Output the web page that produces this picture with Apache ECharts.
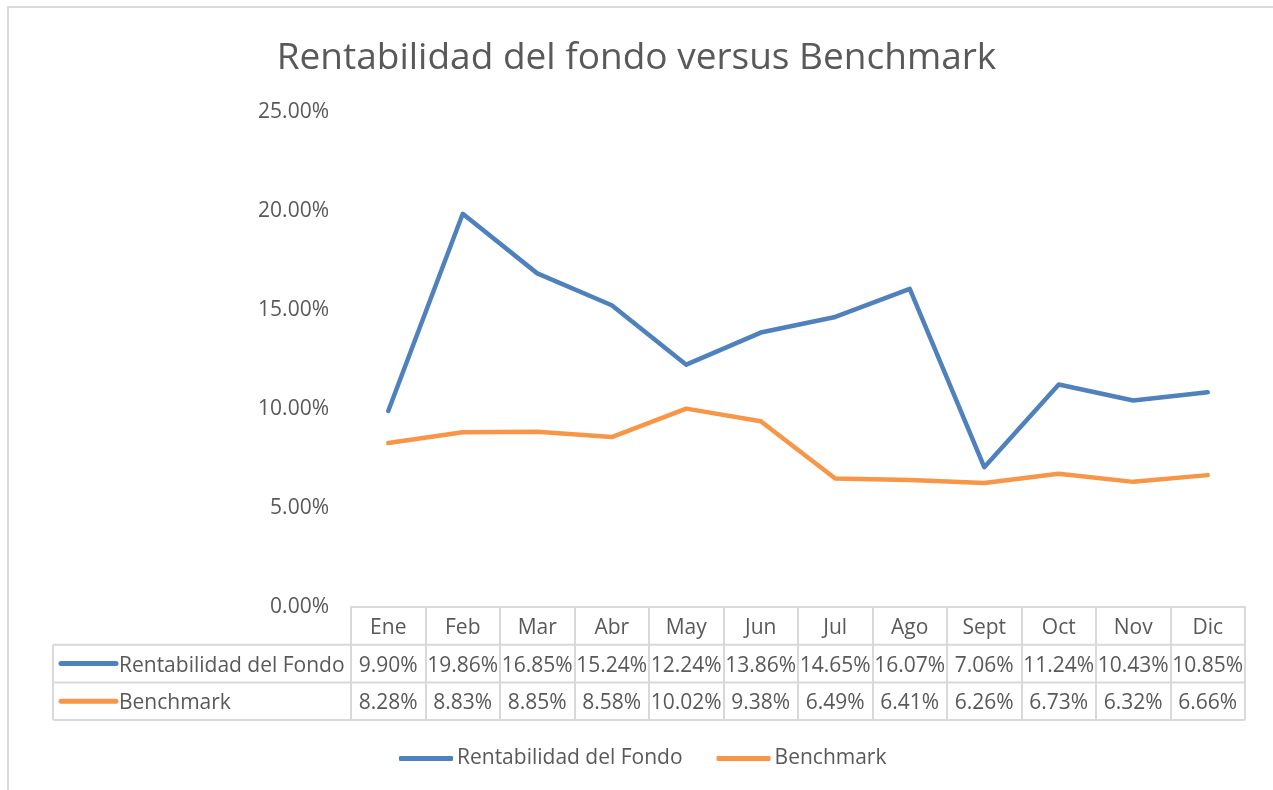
<!DOCTYPE html>
<html>
<head>
<meta charset="utf-8">
<script src="https://cdn.jsdelivr.net/npm/echarts@6/dist/echarts.min.js"></script>
<style>
html,body{margin:0;padding:0;background:#fff;}
#c{width:1273px;height:790px;}
</style>
</head>
<body>
<div id="c"></div>
<script>
const categories = ['Ene','Feb','Mar','Abr','May','Jun','Jul','Ago','Sept','Oct','Nov','Dic'];
const fondo = [9.90,19.86,16.85,15.24,12.24,13.86,14.65,16.07,7.06,11.24,10.43,10.85];
const benchmark = [8.28,8.83,8.85,8.58,10.02,9.38,6.49,6.41,6.26,6.73,6.32,6.66];
const seriesNames = ['Rentabilidad del Fondo','Benchmark'];
const yTicks = {min:0, max:25, interval:5};

const FONT = '"Open Sans", sans-serif';
const TXT = '#595959';
const GRID_LINE = '#d9d9d9';
const BLUE = '#4f81bd';
const ORANGE = '#f79646';
const ROW_H = 37.7;

const chart = echarts.init(document.getElementById('c'), null, {renderer:'canvas'});

const option = {
  animation:false,
  backgroundColor:'#fff',
  title:{
    text:'Rentabilidad del fondo versus Benchmark',
    left:'center', top:35,
    textStyle:{fontFamily:FONT, fontSize:37, fontWeight:'normal', color:TXT}
  },
  legend:{
    data:seriesNames,
    left:394, top:743,
    itemWidth:54, itemHeight:5, itemGap:34,
    icon:'roundRect',
    textStyle:{fontFamily:FONT, fontSize:21, color:TXT, padding:[2,0,0,-1]}
  },
  grid:{left:351, right:28, top:112, bottom:183, containLabel:false},
  xAxis:{
    type:'category', data:categories, boundaryGap:true,
    axisLine:{show:true, lineStyle:{color:GRID_LINE, width:2}},
    axisTick:{show:true, interval:0, length:ROW_H*3, lineStyle:{color:GRID_LINE, width:2}},
    axisLabel:{
      interval:0, margin:2,
      fontFamily:FONT, fontSize:21, color:TXT, lineHeight:ROW_H,
      formatter:function(v, i){
        return v + '\n' + fondo[i].toFixed(2) + '%\n' + benchmark[i].toFixed(2) + '%';
      }
    },
    splitLine:{show:false}
  },
  yAxis:{
    type:'value', min:yTicks.min, max:yTicks.max, interval:yTicks.interval,
    axisLine:{show:false}, axisTick:{show:false}, splitLine:{show:false},
    axisLabel:{margin:22, fontFamily:FONT, fontSize:21, color:TXT, padding:[4,0,0,0],
      formatter:function(v){return v.toFixed(2)+'%';}}
  },
  series:[
    {name:seriesNames[0], type:'line', data:fondo, symbol:'none', color:BLUE,
     lineStyle:{width:4.5, color:BLUE, join:'round', cap:'round'}},
    {name:seriesNames[1], type:'line', data:benchmark, symbol:'none', color:ORANGE,
     lineStyle:{width:4.5, color:ORANGE, join:'round', cap:'round'}}
  ]
};
chart.setOption(option);

// Data-table row headers & horizontal rules, positioned from the axis scales
const x0 = chart.convertToPixel({xAxisIndex:0}, 0);
const x1 = chart.convertToPixel({xAxisIndex:0}, 1);
const cw = x1 - x0;
const rightEdge = chart.convertToPixel({xAxisIndex:0}, categories.length-1) + cw/2;
const yBase = chart.convertToPixel({yAxisIndex:0}, 0);
const tableLeft = 53;
const els = [];
// outer chart border
els.push({type:'rect', shape:{x:8, y:7, width:1400, height:900},
  style:{fill:null, stroke:GRID_LINE, lineWidth:2}, silent:true, z:0});
for (let r = 1; r <= 3; r++) {
  const y = yBase + ROW_H*r;
  els.push({type:'line', shape:{x1:tableLeft, y1:y, x2:rightEdge, y2:y},
    style:{stroke:GRID_LINE, lineWidth:2}, z:1});
}
els.push({type:'line', shape:{x1:tableLeft, y1:yBase+ROW_H, x2:tableLeft, y2:yBase+ROW_H*3},
  style:{stroke:GRID_LINE, lineWidth:2}, z:1});
const colors = [BLUE, ORANGE];
seriesNames.forEach(function(name, i){
  const cy = yBase + ROW_H*(i+1.5);
  els.push({type:'line', shape:{x1:61, y1:cy, x2:116, y2:cy},
    style:{stroke:colors[i], lineWidth:5, lineCap:'round'}, z:2});
  els.push({type:'text', x:119, y:cy+2,
    style:{text:name, fontFamily:FONT, fontSize:21, fill:TXT, verticalAlign:'middle', align:'left'}, z:2});
});
chart.setOption({graphic:{elements:els}});
</script>
</body>
</html>
